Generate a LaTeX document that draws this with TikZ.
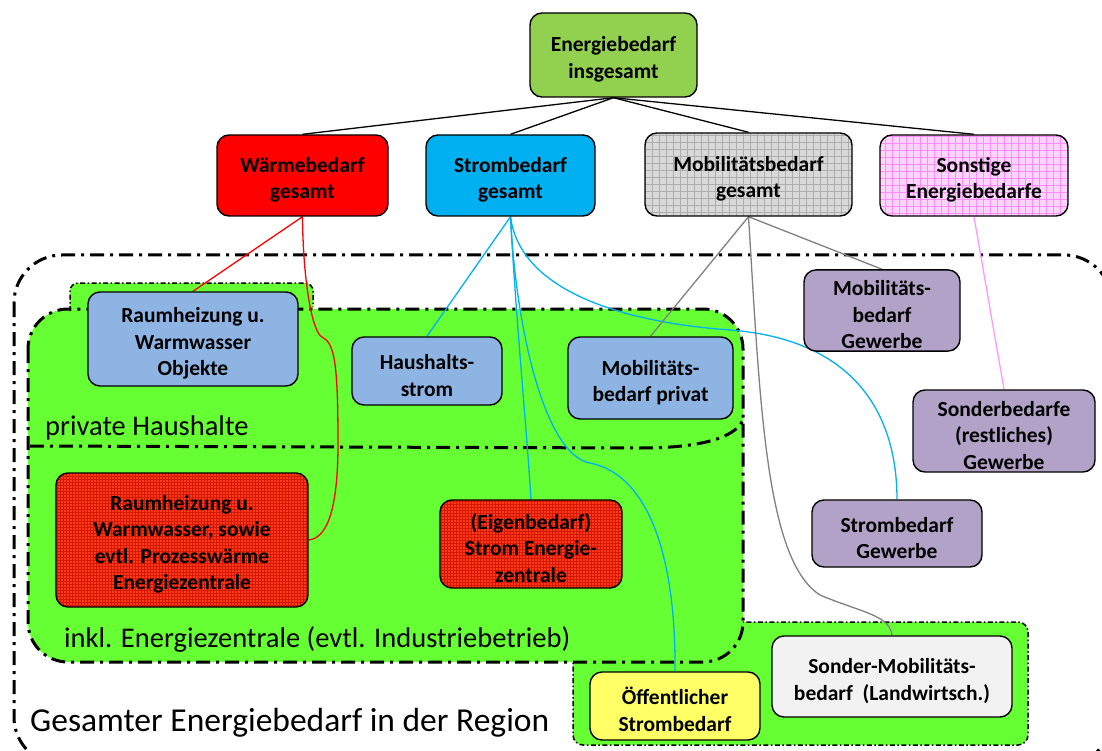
\documentclass[tikz,border=0pt]{standalone}
\usepackage{fontspec}
\setmainfont{Carlito}
\newcommand\ndfont{\fontsize{21.5}{26.5}\selectfont\bfseries}
\newcommand\tp{\rule{0pt}{24pt}}
\definecolor{cGreenTop}{HTML}{92D050}
\definecolor{cRed}{HTML}{FF0000}
\definecolor{cCyan}{HTML}{00B0F0}
\definecolor{cGrayF}{HTML}{D9D9D9}
\definecolor{cGrayG}{HTML}{ADADAD}
\definecolor{cPinkF}{HTML}{FFD4FF}
\definecolor{cPinkG}{HTML}{FF8CFF}
\definecolor{cBlue}{HTML}{8DB4E2}
\definecolor{cPurple}{HTML}{B3A2C7}
\definecolor{cRedH}{HTML}{FF3A1A}
\definecolor{cRedG}{HTML}{D41800}
\definecolor{cYellow}{HTML}{FFFF66}
\definecolor{cLGray}{HTML}{F2F2F2}
\definecolor{cGreen}{HTML}{66FF33}
\definecolor{cPinkL}{HTML}{FF99FF}
\definecolor{cGrayL}{HTML}{808080}
\pgfdeclarelayer{bgg}
\pgfdeclarelayer{bg}
\pgfsetlayers{bgg,bg,main}
\begin{document}
\begin{tikzpicture}[x=1pt,y=-1pt,
  box/.style={draw=black, line width=1.4pt, rounded corners=12pt, align=center, font=\ndfont, inner sep=2pt},
  sz/.style 2 args={minimum width=#1pt, minimum height=#2pt},
  gridfill/.style n args={3}{fill=#1, path picture={\draw[#2, line width=0.45pt, step=#3] (path picture bounding box.south west) grid (path picture bounding box.north east);}},
  region/.style={line width=3pt, dash pattern=on 14pt off 6pt on 3pt off 6pt},
  thinregion/.style={line width=1.5pt, dash pattern=on 5pt off 2.5pt on 1.5pt off 2.5pt},
  conn/.style={line width=1.3pt},
  lbl/.style={font=\fontsize{28.5}{32}\selectfont, inner sep=0pt},
  lblbig/.style={font=\fontsize{33.5}{38}\selectfont, inner sep=0pt}]
\useasboundingbox (0,0) rectangle (1102,751);

% nodes
\node[box, fill=cGreenTop, sz={167}{84}] (ges) at (613.5,55) {\tp Energiebedarf\\insgesamt};
\node[box, fill=cRed, sz={171}{81}] (waerme) at (302.5,175.5) {\tp Wärmebedarf\\gesamt};
\node[box, fill=cCyan, sz={169}{81}] (strom) at (510.5,175.5) {\tp Strombedarf\\gesamt};
\node[box, gridfill={cGrayF}{cGrayG}{7pt}, sz={207}{83}] (mob) at (748.5,174.5) {\tp Mobilitätsbedarf\\gesamt};
\node[box, gridfill={cPinkF}{cPinkG}{7pt}, sz={188}{81}] (sonst) at (974,175.5) {\tp Sonstige\\Energiebedarfe};
\node[box, fill=cBlue, sz={210}{94}] (rwo) at (193,339) {\tp Raumheizung u.\\Warmwasser\\Objekte};
\node[box, fill=cBlue, sz={150}{68}] (hh) at (427,371) {\tp Haushalts-\\strom};
\node[box, fill=cBlue, sz={165}{82}] (mp) at (650.5,378) {\tp Mobilitäts-\\bedarf privat};
\node[box, fill=cPurple, sz={156}{81}] (mg) at (882,310.5) {\tp Mobilitäts-\\bedarf\\Gewerbe};
\node[box, fill=cPurple, sz={182}{82}] (sb) at (1004,431) {\tp Sonderbedarfe\\(restliches)\\Gewerbe};
\node[box, fill=cPurple, sz={170}{67}] (sg) at (897,533.5) {\tp Strombedarf\\Gewerbe};
\node[box, gridfill={cRedH}{cRedG}{3pt}, sz={252}{134}] (rwe) at (182,540) {\tp Raumheizung u.\\Warmwasser, sowie\\evtl. Prozesswärme\\Energiezentrale};
\node[box, gridfill={cRedH}{cRedG}{3pt}, sz={182}{88}] (eb) at (531,544) {\tp (Eigenbedarf)\\Strom Energie-\\zentrale};
\node[box, fill=cYellow, sz={170}{68}] (oe) at (675,706) {\tp Öffentlicher\\Strombedarf};
\node[box, fill=cLGray, sz={240}{81}] (sm) at (892,676.5) {\tp Sonder-Mobilitäts-\\bedarf~~(Landwirtsch.)};

% labels
\node[lbl, anchor=base west] (ph) at (45,435) {private Haushalte};
\node[lbl, anchor=base west] (ie) at (64,647) {inkl. Energiezentrale (evtl. Industriebetrieb)};
\node[lblbig, anchor=base west] (gr) at (30,731) {Gesamter Energiebedarf in der Region};

% connectors
\begin{pgfonlayer}{bg}
\draw[conn, black] (ges.south) -- (waerme.north);
\draw[conn, black] (ges.south) -- (strom.north);
\draw[conn, black] (ges.south) -- (mob.north);
\draw[conn, black] (ges.south) -- (sonst.north);
\draw[conn, cRed] (waerme.south) -- (rwo.north);
\draw[conn, cRed] (waerme.south) .. controls (303,280) and (312,332) .. (322,337)
  .. controls (334,343) and (338,360) .. (338,443)
  .. controls (338,500) and (330,538) .. (rwe.east);
\draw[conn, cCyan] (strom.south) .. controls (516,320) and (526,420) .. (eb.north);
\draw[conn, cCyan] (strom.south) -- (hh.north);
\draw[conn, cCyan] (strom.south) .. controls (516,330) and (545,455) .. (590,463)
  .. controls (650,475) and (676,560) .. (oe.north);
\draw[conn, cCyan] (strom.south) .. controls (520,290) and (620,322) .. (730,330)
  .. controls (860,340) and (897,420) .. (sg.north);
\draw[conn, cGrayL] (mob.south) -- (mp.north);
\draw[conn, cGrayL] (mob.south) -- (mg.north);
\draw[conn, cGrayL] (mob.south) .. controls (760,400) and (765,560) .. (820,595)
  .. controls (860,612) and (890,615) .. (sm.north);
\draw[conn, cPinkL] (sonst.south) -- (sb.north);
\end{pgfonlayer}

% regions
\begin{pgfonlayer}{bgg}
\fill[white] (0,0) rectangle (1102,751);
\draw[region, rounded corners=48pt] (14,255) rectangle (1112,765);
\fill[cGreen, rounded corners=10pt] (573,622) rectangle (1028,745);
\draw[thinregion, rounded corners=10pt] (573,622) rectangle (1028,745);
\fill[cGreen, rounded corners=40pt] (28,309) rectangle (743,662);
\fill[cGreen, rounded corners=8pt] (70,283) rectangle (313,330);
\draw[region, rounded corners=40pt] (28,309) rectangle (743,662);
\draw[thinregion, rounded corners=8pt] (70,311) -- (70,283) -- (313,283) -- (313,307);
\draw[region] (30,446) -- (640,448) .. controls (700,448) and (735,438) .. (743,420);
\end{pgfonlayer}
\end{tikzpicture}
\end{document}
